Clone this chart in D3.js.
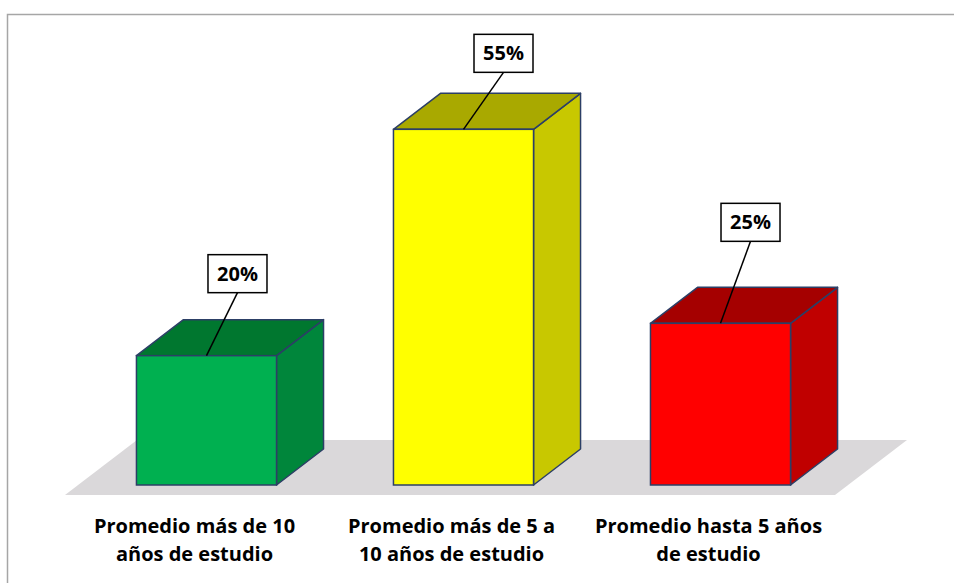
<!DOCTYPE html>
<html>
<head>
<meta charset="utf-8">
<script src="https://cdn.jsdelivr.net/npm/d3@7"></script>
<style>
  body { margin: 0; background: #fff; }
  text { font-family: "Open Sans", Lato, sans-serif; font-weight: 700; fill: #000; }
</style>
</head>
<body>
<svg id="chart" width="954" height="583"></svg>
<script>
// Share of respondents by average years of schooling
const categories = [
  "Promedio más de 10\naños de estudio",
  "Promedio más de 5 a\n10 años de estudio",
  "Promedio hasta 5 años\nde estudio"
];
const values = [20, 55, 25];
const valueLabels = values.map(v => v + "%");

// Face colours per bar: front, top, right side
const frontColors = ["#00B050", "#FFFF00", "#FF0000"];
const topColors   = ["#00772F", "#A9A900", "#A50000"];
const sideColors  = ["#00863B", "#C8C800", "#C00000"];

// Callout placement relative to each bar's top (hand-placed boxes)
const calloutDx = [31, 40, 30];
const calloutDy = [63, 57, 82];

const svg = d3.select("#chart");
const W = 954, H = 583;

// Chart frame
svg.append("rect")
  .attr("x", 7.5).attr("y", 14.5)
  .attr("width", W + 20).attr("height", H + 20)
  .attr("fill", "none").attr("stroke", "#A6A6A6").attr("stroke-width", 1.5);

const x = d3.scaleBand()
  .domain(categories)
  .range([65, 862])
  .paddingInner(0.455)
  .paddingOuter(0.278);

const y = d3.scaleLinear().domain([0, 60]).range([485, 97]);

// 3-D depth offset of the boxes and of the floor
const depth = { dx: 47, dy: -36 };
const floorDepth = { dx: 72, dy: -55 };
const floorFront = y(0) + 10;

// Floor plane
const fx0 = x.range()[0], fx1 = x.range()[1] - 27;
svg.append("path")
  .attr("d", `M${fx0},${floorFront} L${fx1},${floorFront} L${fx1 + floorDepth.dx},${floorFront + floorDepth.dy} L${fx0 + floorDepth.dx},${floorFront + floorDepth.dy} Z`)
  .attr("fill", "#DAD8DA");

const outline = "#2C3F66";

const bars = svg.append("g").selectAll("g")
  .data(categories)
  .join("g");

bars.each(function (c, i) {
  const g = d3.select(this);
  const x0 = x(c), x1 = x(c) + x.bandwidth();
  const yt = y(values[i]), yb = y(0);
  const { dx, dy } = depth;
  // right side
  g.append("path")
    .attr("d", `M${x1},${yt} L${x1 + dx},${yt + dy} L${x1 + dx},${yb + dy} L${x1},${yb} Z`)
    .attr("fill", sideColors[i]).attr("stroke", outline).attr("stroke-width", 1.5)
    .attr("stroke-linejoin", "round");
  // top
  g.append("path")
    .attr("d", `M${x0},${yt} L${x0 + dx},${yt + dy} L${x1 + dx},${yt + dy} L${x1},${yt} Z`)
    .attr("fill", topColors[i]).attr("stroke", outline).attr("stroke-width", 1.5)
    .attr("stroke-linejoin", "round");
  // front
  g.append("rect")
    .attr("x", x0).attr("y", yt)
    .attr("width", x.bandwidth()).attr("height", yb - yt)
    .attr("fill", frontColors[i]).attr("stroke", outline).attr("stroke-width", 1.5);
});

// Value callouts
const boxW = 59, boxH = 38;
bars.each(function (c, i) {
  const g = d3.select(this);
  const cx = x(c) + x.bandwidth() / 2;
  const yt = y(values[i]);
  const bx = cx + calloutDx[i];
  const bBottom = yt - calloutDy[i];
  g.append("line")
    .attr("x1", bx).attr("y1", bBottom)
    .attr("x2", cx).attr("y2", yt)
    .attr("stroke", "#000").attr("stroke-width", 1.5);
  g.append("rect")
    .attr("x", bx - boxW / 2).attr("y", bBottom - boxH)
    .attr("width", boxW).attr("height", boxH)
    .attr("fill", "#fff").attr("stroke", "#000").attr("stroke-width", 1.5);
  g.append("text")
    .attr("x", bx).attr("y", bBottom - boxH / 2 + 7)
    .attr("text-anchor", "middle")
    .attr("font-size", 20)
    .text(valueLabels[i]);
});

// Category labels
const labels = svg.append("g").selectAll("text")
  .data(categories)
  .join("text")
  .attr("text-anchor", "middle")
  .attr("font-size", 20)
  .attr("transform", c => `translate(${x(c) + x.bandwidth() / 2 - 12},533)`);

labels.selectAll("tspan")
  .data(c => c.split("\n"))
  .join("tspan")
  .attr("x", 0)
  .attr("dy", (d, j) => j === 0 ? 0 : 28)
  .text(d => d);
</script>
</body>
</html>
